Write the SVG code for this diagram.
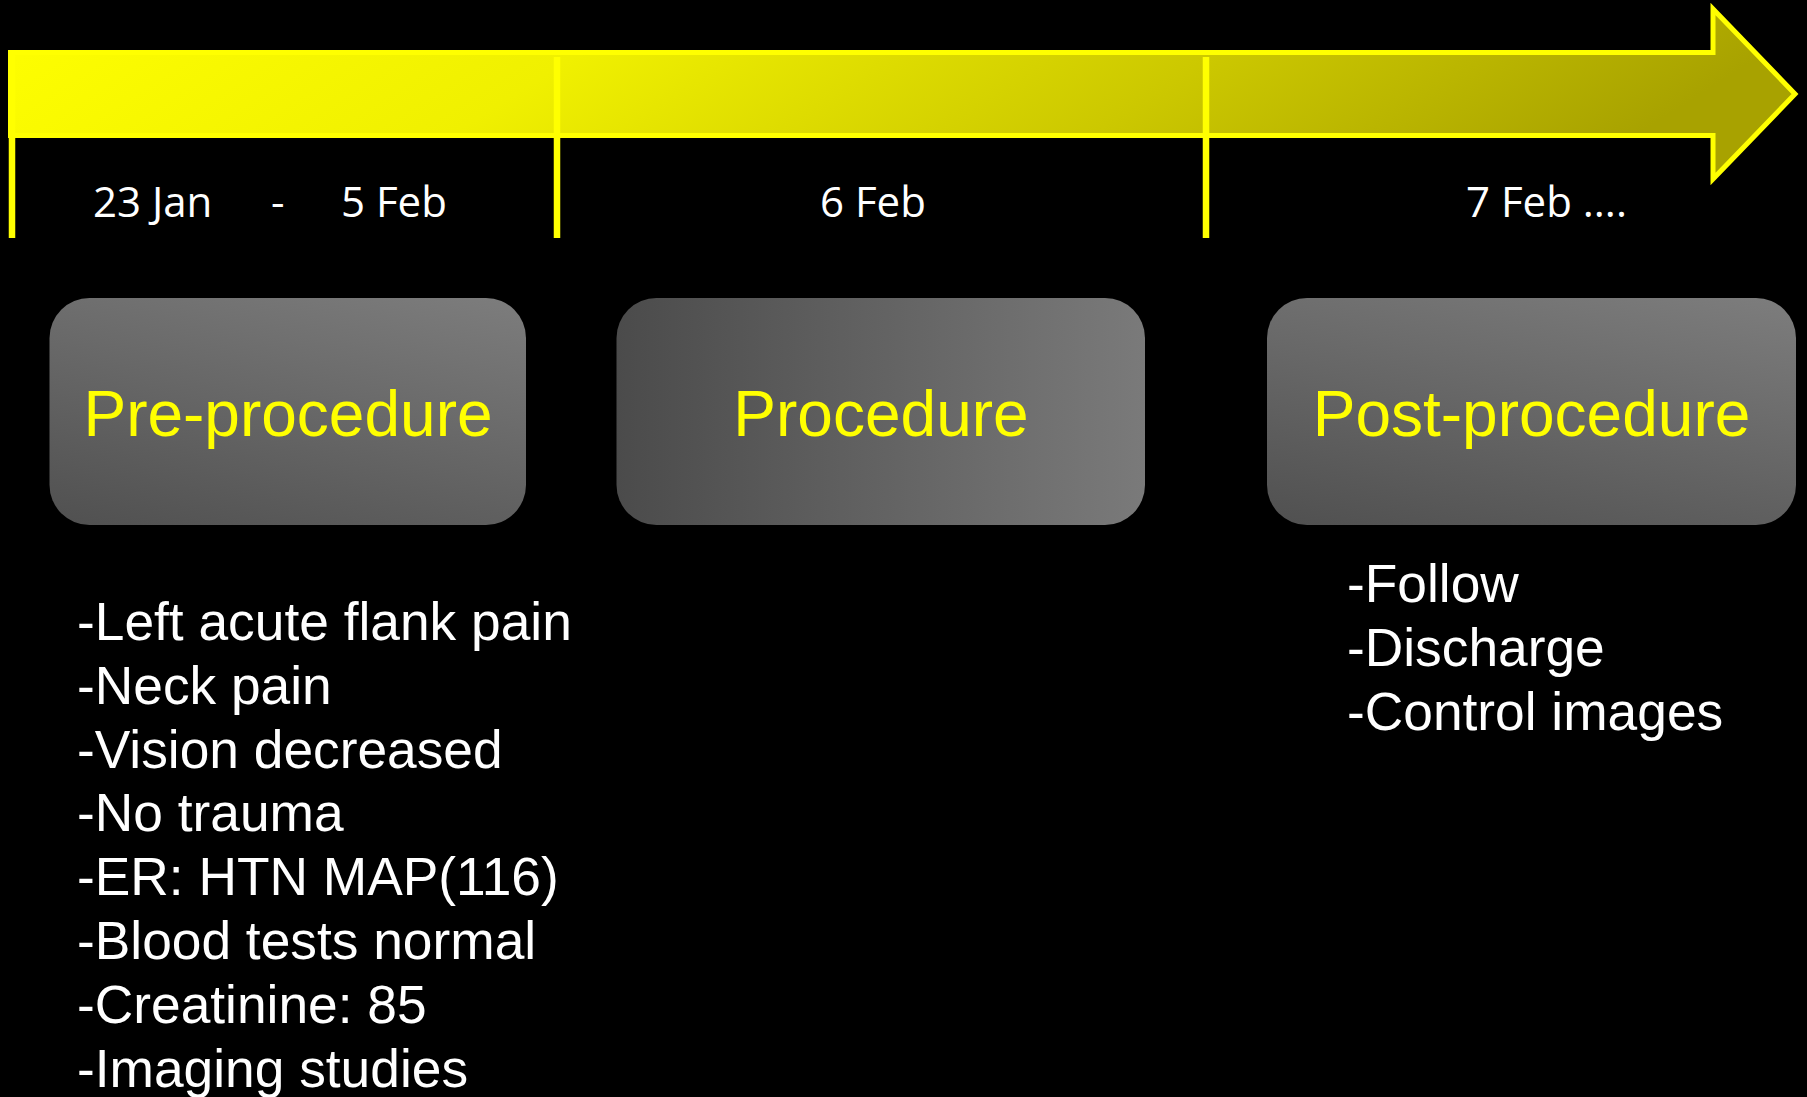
<svg xmlns="http://www.w3.org/2000/svg" width="1807" height="1097" viewBox="0 0 1807 1097">
  <style>
    .tick { stroke: #FFFF00; stroke-width: 6.5; fill: none; }
    .date { font-family: "Open Sans", "Liberation Sans", sans-serif; font-size: 42px; fill: #FFFFFF; }
    .label { font-family: "Liberation Sans", Arial, sans-serif; font-size: 64px; fill: #FFFF00; text-anchor: middle; }
    .item { font-family: "Liberation Sans", Arial, sans-serif; font-size: 53.3px; fill: #FFFFFF; }
  </style>
  <defs>
    <linearGradient id="arrowGrad" x1="0" y1="0" x2="1" y2="0.15">
      <stop offset="0" stop-color="#FFFF00"/>
      <stop offset="0.35" stop-color="#F0F000"/>
      <stop offset="0.7" stop-color="#CCC800"/>
      <stop offset="1" stop-color="#A8A200"/>
    </linearGradient>
    <linearGradient id="diagGrad" x1="0" y1="1" x2="0.6" y2="-0.2">
      <stop offset="0" stop-color="#505050"/>
      <stop offset="1" stop-color="#7D7D7D"/>
    </linearGradient>
    <linearGradient id="horizGrad" x1="0" y1="0" x2="1" y2="0">
      <stop offset="0" stop-color="#4B4B4B"/>
      <stop offset="1" stop-color="#7A7A7A"/>
    </linearGradient>
  </defs>
  <rect x="0" y="0" width="1807" height="1097" fill="#000000"/>

  <g id="timeline">
    <polygon points="10.5,52.5 1713,52.5 1713,9 1795,94 1713,179 1713,135.5 10.5,135.5" fill="url(#arrowGrad)" stroke="#FFFF00" stroke-width="5"/>
    <line class="tick" x1="12" y1="55" x2="12" y2="238"/>
    <line class="tick" x1="557" y1="57" x2="557" y2="238"/>
    <line class="tick" x1="1206" y1="57" x2="1206" y2="238"/>
  </g>

  <g id="dates">
    <text class="date" y="217"><tspan x="93">23 Jan</tspan><tspan x="271">-</tspan><tspan x="341">5 Feb</tspan></text>
    <text class="date" x="820" y="217">6 Feb</text>
    <text class="date" x="1466" y="217">7 Feb ....</text>
  </g>

  <g id="connectors"></g>

  <g id="node-pre">
    <rect x="49.5" y="298" width="476.5" height="227" rx="40" ry="40" fill="url(#diagGrad)"/>
    <text class="label" x="288" y="436">Pre-procedure</text>
  </g>
  <g id="node-proc">
    <rect x="616.5" y="298" width="528.5" height="227" rx="40" ry="40" fill="url(#horizGrad)"/>
    <text class="label" x="881" y="436">Procedure</text>
  </g>
  <g id="node-post">
    <rect x="1267" y="298" width="529" height="227" rx="40" ry="40" fill="url(#diagGrad)"/>
    <text class="label" x="1531.5" y="436">Post-procedure</text>
  </g>

  <g id="pre-list">
    <text class="item" x="77" y="640">-Left acute flank pain</text>
    <text class="item" x="77" y="704">-Neck pain</text>
    <text class="item" x="77" y="768">-Vision decreased</text>
    <text class="item" x="77" y="831">-No trauma</text>
    <text class="item" x="77" y="895">-ER: HTN MAP(116)</text>
    <text class="item" x="77" y="959">-Blood tests normal</text>
    <text class="item" x="77" y="1023">-Creatinine: 85</text>
    <text class="item" x="77" y="1087">-Imaging studies</text>
  </g>

  <g id="post-list">
    <text class="item" x="1347" y="602">-Follow</text>
    <text class="item" x="1347" y="666">-Discharge</text>
    <text class="item" x="1347" y="730">-Control images</text>
  </g>
</svg>
